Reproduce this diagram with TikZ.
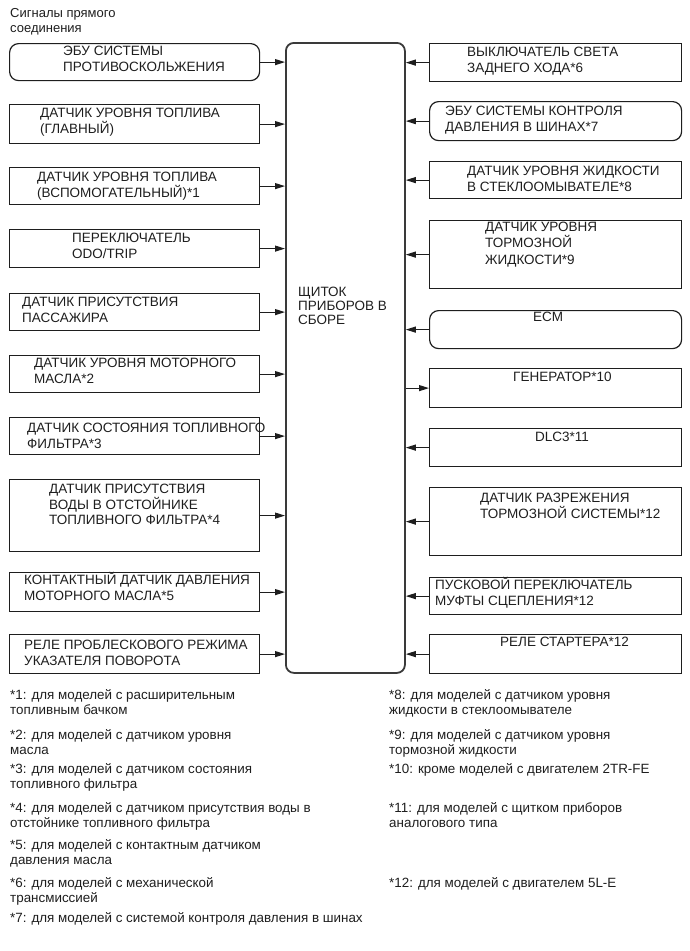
\documentclass[tikz,border=0pt]{standalone}
\usepackage{fontspec}
\setmainfont{Liberation Sans}
\usetikzlibrary{arrows.meta}
\definecolor{ink}{HTML}{1E1E1E}
\definecolor{frame}{HTML}{3A3A3A}
\tikzset{
  sensor/.style={rectangle, draw=ink, line width=1.2pt, anchor=north west, inner sep=0pt,
                 minimum width=250pt, minimum height=38pt},
  ecu/.style={sensor, rounded corners=9pt},
  cluster/.style={rectangle, rounded corners=8pt, draw=frame, line width=1.8pt, anchor=north west,
                  inner sep=0pt, minimum width=119pt, minimum height=630pt},
  % anchored on the baseline of the last line
  caption/.style={anchor=base west, align=left, inner sep=0pt, text=ink,
                  font=\fontsize{13.5}{15.5}\selectfont},
  note/.style={anchor=base west, align=left, inner sep=0pt, text=ink,
               font=\fontsize{13.4}{15.5}\selectfont},
  flow/.style={-{Triangle[length=10pt,width=6pt]}, line width=1.1pt, draw=ink}
}

\begin{document}
\begin{tikzpicture}[x=1pt, y=-1pt]
\useasboundingbox (0,0) rectangle (690,951);

\node[note, font=\fontsize{13}{15}\selectfont] (head) at (10,32) {Сигналы прямого\\соединения};

% instrument cluster
\node[cluster] (panel) at (285,42) {};
\node[caption, font=\fontsize{13.5}{14}\selectfont] (panel-t) at (298,324.5) {ЩИТОК\\ПРИБОРОВ В\\СБОРЕ};

% inputs on the left
\node[ecu, minimum height=37pt] (abs) at (9,43) {};
\node[caption] (abs-t) at (63,71) {ЭБУ СИСТЕМЫ\\ПРОТИВОСКОЛЬЖЕНИЯ};
\node[sensor, minimum height=39pt] (fmain) at (9,104) {};
\node[caption] (fmain-t) at (40,133) {ДАТЧИК УРОВНЯ ТОПЛИВА\\(ГЛАВНЫЙ)};
\node[sensor, minimum height=37pt] (fsub) at (9,167) {};
\node[caption] (fsub-t) at (37,197) {ДАТЧИК УРОВНЯ ТОПЛИВА\\(ВСПОМОГАТЕЛЬНЫЙ)*1};
\node[sensor] (odo) at (9,229) {};
\node[caption] (odo-t) at (72,258) {ПЕРЕКЛЮЧАТЕЛЬ\\ODO/TRIP};
\node[sensor, minimum height=37pt] (pass) at (9,293) {};
\node[caption] (pass-t) at (22,322) {ДАТЧИК ПРИСУТСТВИЯ\\ПАССАЖИРА};
\node[sensor, minimum height=37pt] (oil) at (9,355) {};
\node[caption] (oil-t) at (34,383) {ДАТЧИК УРОВНЯ МОТОРНОГО\\МАСЛА*2};
\node[sensor, minimum height=37pt] (filt) at (9,417) {};
\node[caption] (filt-t) at (27,448) {ДАТЧИК СОСТОЯНИЯ ТОПЛИВНОГО\\ФИЛЬТРА*3};
\node[sensor, minimum height=72pt] (water) at (9,479) {};
\node[caption] (water-t) at (49,524.5) {ДАТЧИК ПРИСУТСТВИЯ\\ВОДЫ В ОТСТОЙНИКЕ\\ТОПЛИВНОГО ФИЛЬТРА*4};
\node[sensor, minimum height=39pt] (press) at (9,572) {};
\node[caption] (press-t) at (24,600) {КОНТАКТНЫЙ ДАТЧИК ДАВЛЕНИЯ\\МОТОРНОГО МАСЛА*5};
\node[sensor, minimum height=39pt] (flash) at (9,634) {};
\node[caption] (flash-t) at (24,665) {РЕЛЕ ПРОБЛЕСКОВОГО РЕЖИМА\\УКАЗАТЕЛЯ ПОВОРОТА};

% inputs on the right
\node[sensor, minimum width=252pt] (rev) at (429,43) {};
\node[caption] (rev-t) at (467,72) {ВЫКЛЮЧАТЕЛЬ СВЕТА\\ЗАДНЕГО ХОДА*6};
\node[ecu, minimum width=252pt, minimum height=39pt] (tpms) at (429,101) {};
\node[caption] (tpms-t) at (445,131) {ЭБУ СИСТЕМЫ КОНТРОЛЯ\\ДАВЛЕНИЯ В ШИНАХ*7};
\node[sensor, minimum width=252pt, minimum height=37pt] (wash) at (429,161) {};
\node[caption] (wash-t) at (467,191) {ДАТЧИК УРОВНЯ ЖИДКОСТИ\\В СТЕКЛООМЫВАТЕЛЕ*8};
\node[sensor, minimum width=252pt, minimum height=68pt] (brake) at (429,220) {};
\node[caption, font=\fontsize{13.5}{16.3}\selectfont] (brake-t) at (485,264) {ДАТЧИК УРОВНЯ\\ТОРМОЗНОЙ\\ЖИДКОСТИ*9};
\node[ecu, minimum width=252pt] (ecm) at (429,310) {};
\node[caption] (ecm-t) at (533,321.5) {ECM};
\node[sensor, minimum width=252pt, minimum height=39pt] (gen) at (429,368) {};
\node[caption] (gen-t) at (513,381.5) {ГЕНЕРАТОР*10};
\node[sensor, minimum width=252pt] (dlc) at (429,428) {};
\node[caption] (dlc-t) at (535,441.5) {DLC3*11};
\node[sensor, minimum width=252pt, minimum height=68pt] (vac) at (429,487) {};
\node[caption] (vac-t) at (480,518) {ДАТЧИК РАЗРЕЖЕНИЯ\\ТОРМОЗНОЙ СИСТЕМЫ*12};
\node[sensor, minimum width=252pt, minimum height=37pt] (clutch) at (429,577) {};
\node[caption] (clutch-t) at (435,605) {ПУСКОВОЙ ПЕРЕКЛЮЧАТЕЛЬ\\МУФТЫ СЦЕПЛЕНИЯ*12};
\node[sensor, minimum width=252pt, minimum height=39pt] (start) at (429,634) {};
\node[caption] (start-t) at (500,646.5) {РЕЛЕ СТАРТЕРА*12};

\draw[flow] (abs.east) -- (abs.east -| panel.west);
\draw[flow] (fmain.east) -- (fmain.east -| panel.west);
\draw[flow] (fsub.east) -- (fsub.east -| panel.west);
\draw[flow] (odo.east) -- (odo.east -| panel.west);
\draw[flow] (pass.east) -- (pass.east -| panel.west);
\draw[flow] (oil.east) -- (oil.east -| panel.west);
\draw[flow] (filt.east) -- (filt.east -| panel.west);
\draw[flow] (water.east) -- (water.east -| panel.west);
\draw[flow] (press.east) -- (press.east -| panel.west);
\draw[flow] (flash.east) -- (flash.east -| panel.west);

\draw[flow] (rev.west) -- (rev.west -| panel.east);
\draw[flow] (tpms.west) -- (tpms.west -| panel.east);
\draw[flow] (wash.west) -- (wash.west -| panel.east);
\draw[flow] (brake.west) -- (brake.west -| panel.east);
\draw[flow] (ecm.west) -- (ecm.west -| panel.east);
\draw[flow] (gen.west -| panel.east) -- (gen.west);
\draw[flow] (dlc.west) -- (dlc.west -| panel.east);
\draw[flow] (vac.west) -- (vac.west -| panel.east);
\draw[flow] (clutch.west) -- (clutch.west -| panel.east);
\draw[flow] (start.west) -- (start.west -| panel.east);

% footnotes
\node[note] (n1) at (10,714.5) {*1: для моделей с расширительным\\топливным бачком};
\node[note] (n2) at (10,754.5) {*2: для моделей с датчиком уровня\\масла};
\node[note] (n3) at (10,788.5) {*3: для моделей с датчиком состояния\\топливного фильтра};
\node[note] (n4) at (10,827.5) {*4: для моделей с датчиком присутствия воды в\\отстойнике топливного фильтра};
\node[note] (n5) at (10,864.5) {*5: для моделей с контактным датчиком\\давления масла};
\node[note] (n6) at (10,902.5) {*6: для моделей с механической\\трансмиссией};
\node[note] (n7) at (10,922) {*7: для моделей с системой контроля давления в шинах};
\node[note] (n8) at (389,714.5) {*8: для моделей с датчиком уровня\\жидкости в стеклоомывателе};
\node[note] (n9) at (389,754.5) {*9: для моделей с датчиком уровня\\тормозной жидкости};
\node[note] (n10) at (389,773) {*10: кроме моделей с двигателем 2TR-FE};
\node[note] (n11) at (389,827.5) {*11: для моделей с щитком приборов\\аналогового типа};
\node[note] (n12) at (389,887) {*12: для моделей с двигателем 5L-E};
\end{tikzpicture}
\end{document}
